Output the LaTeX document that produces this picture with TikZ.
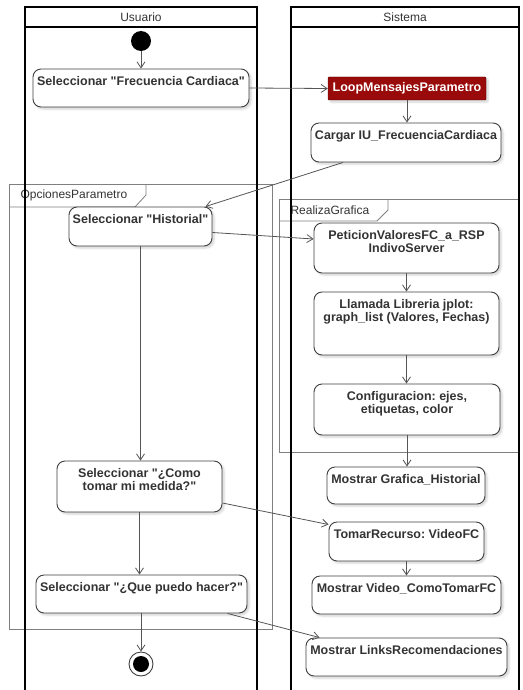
\documentclass[tikz,border=0pt]{standalone}
\usepackage{fontspec}
\setmainfont{Liberation Sans}
% plain family without TeX ligature mapping, so " stays a straight quote
\newfontfamily\lsans{Liberation Sans}
\usetikzlibrary{arrows.meta,shadows.blur,backgrounds}

\definecolor{edgegray}{HTML}{555555}
\definecolor{boxline}{HTML}{3F3F3F}
\definecolor{framegray}{HTML}{7F7F7F}
\definecolor{loopred}{HTML}{990A0A}
\definecolor{loopdark}{HTML}{5E0000}
\definecolor{txt}{HTML}{333333}

\frenchspacing
\begin{document}
\begin{tikzpicture}[x=1pt,y=-1pt,
  act/.style={draw=boxline, line width=0.9pt, rounded corners=8pt, fill=white,
    blur shadow={shadow xshift=2pt, shadow yshift=-2pt, shadow blur steps=6, shadow opacity=18},
    inner sep=0pt},
  acttext/.style={anchor=north, yshift=-6pt, font=\lsans\frenchspacing\fontsize{12.5}{12.5}\selectfont\bfseries,
    text=txt, align=center, inner sep=2pt},
  flow/.style={draw=edgegray, line width=0.8pt, -{Straight Barb[length=6pt,width=8pt]}},
  lane/.style={draw=black, line width=1.4pt},
  framebox/.style={draw=framegray, line width=0.8pt},
  lanetitle/.style={font=\lsans\fontsize{12}{14}\selectfont, text=txt},
]
\useasboundingbox (0,0) rectangle (522,690);

% ---- initial and final states
\node[circle, fill=black, minimum size=20pt, inner sep=0pt] (start) at (141,41) {};
\node[circle, draw=boxline, line width=0.9pt, fill=white, minimum size=24pt, inner sep=0pt,
  path picture={\fill[black] (path picture bounding box.center) circle (8pt);}] (final) at (141,664) {};

% ---- Usuario actions
\node[act, minimum width=216pt, minimum height=38pt,
  label={[acttext]north:{Seleccionar "Frecuencia Cardiaca"}}] (frec) at (141,88) {};
\node[act, minimum width=143pt, minimum height=39pt,
  label={[acttext]north:{Seleccionar "Historial"}}] (hist) at (140.5,226.5) {};
\node[act, minimum width=165pt, minimum height=51pt,
  label={[acttext]north:{Seleccionar "¿Como\\tomar mi medida?"}}] (como) at (139.5,486.5) {};
\node[act, minimum width=211pt, minimum height=38pt,
  label={[acttext]north:{Seleccionar "¿Que puedo hacer?"}}] (que) at (141.5,594) {};

% ---- Sistema actions
\node[draw=loopdark, fill=loopred, text=white, rounded corners=1pt,
  font=\lsans\fontsize{12.5}{14}\selectfont\bfseries, minimum width=158pt, minimum height=23pt, inner sep=0pt,
  blur shadow={shadow xshift=2pt, shadow yshift=-2pt, shadow blur steps=6, shadow opacity=18}]
  (loop) at (407,88.5) {LoopMensajesParametro};
\node[act, minimum width=190pt, minimum height=39pt,
  label={[acttext]north:{Cargar IU\_FrecuenciaCardiaca}}] (cargar) at (406,142.5) {};
\node[act, minimum width=185pt, minimum height=50pt,
  label={[acttext]north:{PeticionValoresFC\_a\_RSP\\IndivoServer}}] (pet) at (406.5,248) {};
\node[act, minimum width=185pt, minimum height=63pt,
  label={[acttext]north:{Llamada Libreria jplot:\\graph\_list (Valores, Fechas)}}] (llam) at (406.5,323.5) {};
\node[act, minimum width=186pt, minimum height=51pt,
  label={[acttext]north:{Configuracion: ejes,\\etiquetas, color}}] (conf) at (407,409.5) {};
\node[act, minimum width=158pt, minimum height=37pt,
  label={[acttext]north:{Mostrar Grafica\_Historial}}] (mgraf) at (406,485.5) {};
\node[act, minimum width=155pt, minimum height=39pt,
  label={[acttext]north:{TomarRecurso: VideoFC}}] (tomar) at (406.5,541.5) {};
\node[act, minimum width=189pt, minimum height=38pt,
  label={[acttext]north:{Mostrar Video\_ComoTomarFC}}] (mvid) at (406.5,595) {};
\node[act, minimum width=201pt, minimum height=38pt,
  label={[acttext]north:{Mostrar LinksRecomendaciones}}] (links) at (406.5,657) {};

% ---- frames and swimlanes behind everything
\begin{scope}[on background layer]
  \draw[framebox] (9,184) rectangle (272,629);
  \draw[framebox] (9,207) -- (135,207) -- (146,195) -- (146,184);
  \node[lanetitle, anchor=west] (optTitle) at (17,195.5) {OpcionesParametro};

  \draw[framebox] (279,199) rectangle (518,452);
  \draw[framebox] (279,221) -- (377,221) -- (388,210) -- (388,199);
  \node[lanetitle, anchor=west] (graTitle) at (287,210) {RealizaGrafica};

  \draw[lane] (25,690) -- (25,7) -- (257,7) -- (257,690);
  \draw[lane] (25,27) -- (257,27);
  \node[lanetitle] (usrTitle) at (141,17) {Usuario};

  \draw[lane] (291,690) -- (291,7) -- (519,7) -- (519,690);
  \draw[lane] (291,27) -- (519,27);
  \node[lanetitle] (sysTitle) at (405,17) {Sistema};
\end{scope}

% ---- control flow
\draw[flow] (start) -- (frec.north -| start);
\draw[flow] (frec.east) -- (loop.west);
\draw[flow] (loop.south) -- (cargar.north -| loop.south);
\draw[flow] ([xshift=-63pt]cargar.south) -- ([xshift=-7pt]hist.north east);
\draw[flow] ([yshift=-6pt]hist.east) -- ([yshift=9pt]pet.west);
\draw[flow] (hist.south) -- (hist.south |- como.north);
\draw[flow] (como.south) -- (como.south |- que.north);
\draw[flow] (que.south -| final) -- (final);
\draw[flow] (pet.south) -- (llam.north);
\draw[flow] (llam.south) -- (llam.south |- conf.north);
\draw[flow] (conf.south) -- (conf.south |- mgraf.north);
\draw[flow] ([yshift=-16.5pt]como.east) -- ([yshift=17pt]tomar.west);
\draw[flow] (tomar.south) -- (mvid.north);
\draw[flow] ([xshift=-20pt]que.south east) -- ([xshift=14pt]links.north west);
\end{tikzpicture}
\end{document}
